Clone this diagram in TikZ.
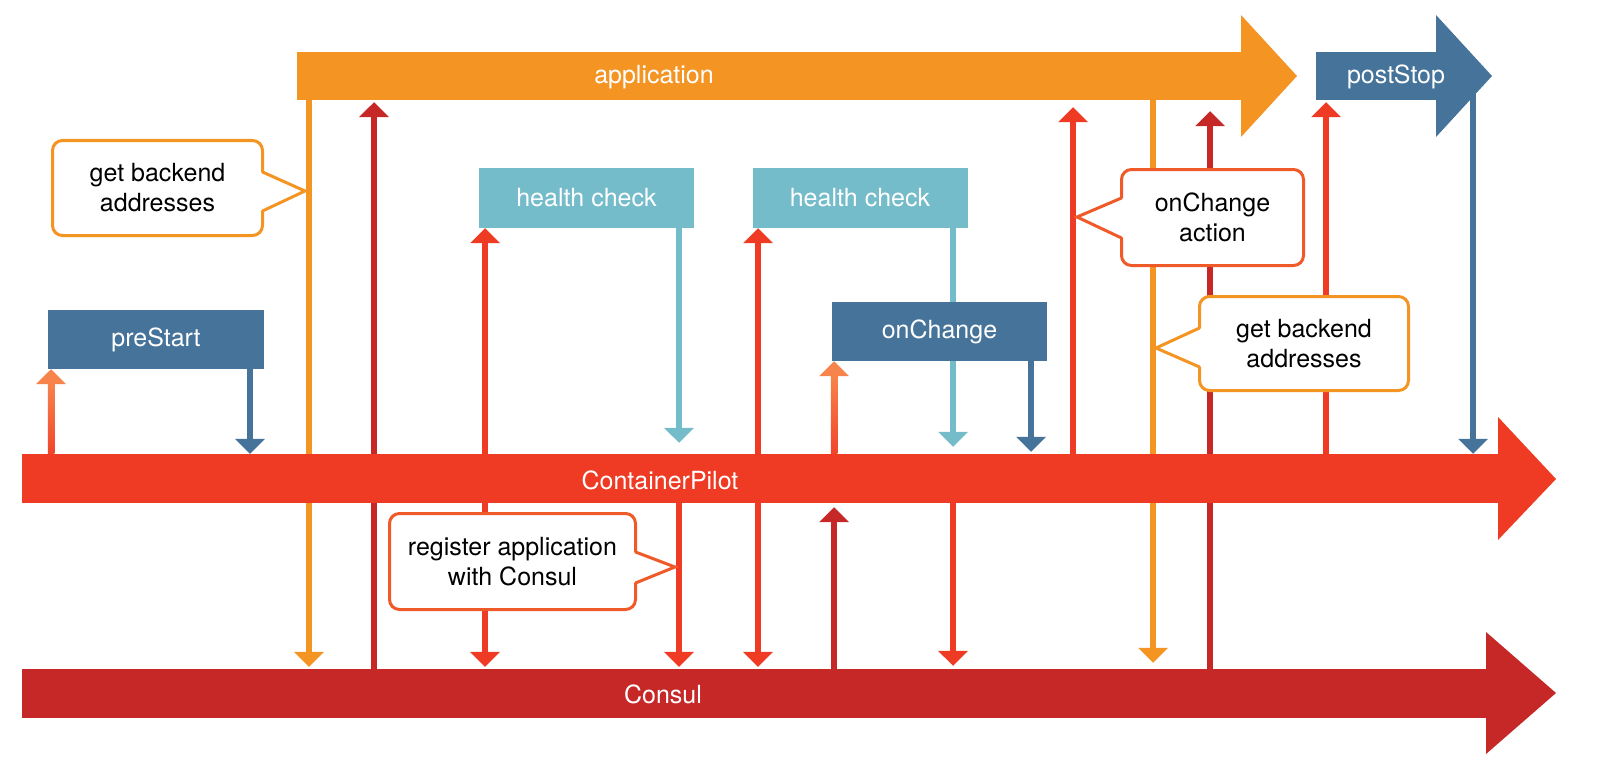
\documentclass[tikz,border=0pt]{standalone}
\usepackage{fontspec}
\setmainfont{TeX Gyre Heros}
\usetikzlibrary{arrows.meta}

\definecolor{appor}{HTML}{F39423}
\definecolor{cpred}{HTML}{EF3A24}
\definecolor{consulred}{HTML}{C62828}
\definecolor{stageblue}{HTML}{457399}
\definecolor{checkblue}{HTML}{75BCCB}
\definecolor{notered}{HTML}{F05A28}
\definecolor{riseor}{HTML}{F7844B}

\newcommand{\lblfont}{\fontsize{25}{30}\selectfont}

\pgfdeclarelayer{paper}
\pgfdeclarelayer{wires}
\pgfsetlayers{paper,wires,main}

\tikzset{
    bar/.style={fill=#1, inner sep=0pt},
    bartext/.style={text=white, font=\lblfont, inner sep=0pt},
    stage/.style={fill=#1, text=white, font=\lblfont, inner sep=0pt,
        minimum width=215pt, minimum height=60pt},
    note/.style={draw=#1, fill=white, line width=3pt, rounded corners=10pt,
        font=\lblfont, align=center, inner sep=0pt},
    pointer/.style={draw=#1, line width=3pt, line join=miter},
    flow/.style={draw=#1, line width=6.5pt, -{Triangle[width=29pt,length=15pt]}},
    both/.style={draw=#1, line width=6.5pt,
        {Triangle[width=29pt,length=15pt]}-{Triangle[width=29pt,length=15pt]}},
    rise/.style={bottom color=cpred!85!riseor, top color=riseor},
}

\begin{document}
\begin{tikzpicture}[x=1pt, y=-1pt]

    \useasboundingbox (0,0) rectangle (1600,781);
    \begin{pgfonlayer}{paper}
        \fill[white] (0,0) rectangle (1600,781);
    \end{pgfonlayer}

    % Lanes of the vertical arrows
    \foreach \n/\x in {pre-up/51, pre-down/250, back-a/309, reg-a/374,
                       chk1-up/485, chk1-down/679, chk2-up/758, chg-up/834,
                       chk2-down/953, chg-down/1031, act/1073, back-b/1153,
                       reg-b/1210, stop-up/1326, stop-down/1473} {
        \coordinate (\n) at (\x,0);
    }

    % application
    \node[bar=appor, minimum width=944pt, minimum height=48pt] (app) at (769,76) {};
    \fill[appor] (app.north east) -- (1241,15) -- (1297,76) -- (1241,137) -- (app.south east) -- cycle;
    \node[bartext] (app-label) at (654,77) {application};

    % postStop
    \node[bar=stageblue, minimum width=120pt, minimum height=48pt] (stop) at (1376,76) {};
    \fill[stageblue] (stop.north east) -- (1436,15) -- (1492,76) -- (1436,137) -- (stop.south east) -- cycle;
    \node[bartext] (stop-label) at (1396,77) {postStop};

    % ContainerPilot
    \node[bar=cpred, minimum width=1476pt, minimum height=49pt] (cp) at (760,478.5) {};
    \fill[cpred] (cp.north east) -- (1498,417) -- (1556,479) -- (1498,540) -- (cp.south east) -- cycle;
    \node[bartext] (cp-label) at (660,480) {ContainerPilot};

    % Consul
    \node[bar=consulred, minimum width=1464pt, minimum height=49pt] (consul) at (754,693.5) {};
    \fill[consulred] (consul.north east) -- (1486,632) -- (1556,693) -- (1486,754) -- (consul.south east) -- cycle;
    \node[bartext] (consul-label) at (663,694) {Consul};

    % Stages
    \node[stage=stageblue, minimum width=216pt, minimum height=59pt] (pre) at (156,339.5) {preStart};
    \node[stage=checkblue] (chk1) at (586.5,198) {health check};
    \node[stage=checkblue] (chk2) at (860,198) {health check};
    \node[stage=stageblue, minimum height=59pt] (chg) at (939.5,331.5) {onChange};

    % Callouts
    \node[note=appor, minimum width=210pt, minimum height=95pt] (note-back-a) at (157.5,188) {get backend\\addresses};
    \fill[white] (260,172) -- (306,191) -- (260,211) -- cycle;
    \draw[pointer=appor] (262.5,172) -- (305,191) -- (262.5,211);

    \node[note=notered, minimum width=182pt, minimum height=96pt] (note-act) at (1212.5,217.5) {onChange\\action};
    \fill[white] (1124,198) -- (1076,217) -- (1124,238) -- cycle;
    \draw[pointer=notered] (1121.5,198) -- (1077,217) -- (1121.5,238);

    \node[note=appor, minimum width=209pt, minimum height=94pt] (note-back-b) at (1304,343.5) {get backend\\addresses};
    \fill[white] (1202,328) -- (1155,348) -- (1202,367) -- cycle;
    \draw[pointer=appor] (1199.5,328) -- (1156,348) -- (1199.5,367);

    \node[note=notered, minimum width=246pt, minimum height=96pt] (note-reg) at (512.5,561.5) {register application\\with Consul};
    \fill[white] (633,552) -- (676,567) -- (633,583) -- cycle;
    \draw[pointer=notered] (635.5,552) -- (675,567) -- (635.5,583);

    % Vertical arrows, behind bars and boxes
    \begin{pgfonlayer}{wires}
        % preStart
        \draw[flow=riseor] (cp.north -| pre-up) -- (pre.south -| pre-up);
        \shade[rise] ([xshift=-3.25pt]cp.north -| pre-up) rectangle ([xshift=3.25pt, yshift=-14pt]pre.south -| pre-up);
        \draw[flow=stageblue] (pre.south -| pre-down) -- (cp.north -| pre-down);

        % application and Consul
        \draw[flow=appor, shorten >=2pt] (app.south -| back-a) -- (consul.north -| back-a);
        \draw[flow=consulred, shorten >=2pt] (consul.north -| reg-a) -- (app.south -| reg-a);

        % health checks
        \draw[both=cpred, shorten <=2pt] (consul.north -| chk1-up) -- (chk1.south -| chk1-up);
        \draw[flow=checkblue, shorten >=11pt] (chk1.south -| chk1-down) -- (cp.north -| chk1-down);
        \draw[flow=cpred, shorten >=2pt] (cp.south -| chk1-down) -- (consul.north -| chk1-down);
        \draw[both=cpred, shorten <=2pt] (consul.north -| chk2-up) -- (chk2.south -| chk2-up);
        \draw[flow=checkblue, shorten >=7pt] (chk2.south -| chk2-down) -- (cp.north -| chk2-down);
        \draw[flow=cpred, shorten >=3pt] (cp.south -| chk2-down) -- (consul.north -| chk2-down);

        % onChange
        \draw[flow=riseor] (cp.north -| chg-up) -- (chg.south -| chg-up);
        \shade[rise] ([xshift=-3.25pt]cp.north -| chg-up) rectangle ([xshift=3.25pt, yshift=-14pt]chg.south -| chg-up);
        \draw[flow=consulred, shorten >=4pt] (consul.north -| chg-up) -- (cp.south -| chg-up);
        \draw[flow=stageblue, shorten >=2pt] (chg.south -| chg-down) -- (cp.north -| chg-down);
        \draw[flow=cpred, shorten >=7pt] (cp.north -| act) -- (app.south -| act);
        \draw[flow=appor, shorten >=6pt] (app.south -| back-b) -- (consul.north -| back-b);
        \draw[flow=consulred, shorten >=11pt] (consul.north -| reg-b) -- (app.south -| reg-b);

        % postStop
        \draw[flow=cpred, shorten >=2pt] (cp.north -| stop-up) -- (stop.south -| stop-up);
        \draw[flow=stageblue] (stop.center -| stop-down) -- (cp.north -| stop-down);
    \end{pgfonlayer}

\end{tikzpicture}
\end{document}
